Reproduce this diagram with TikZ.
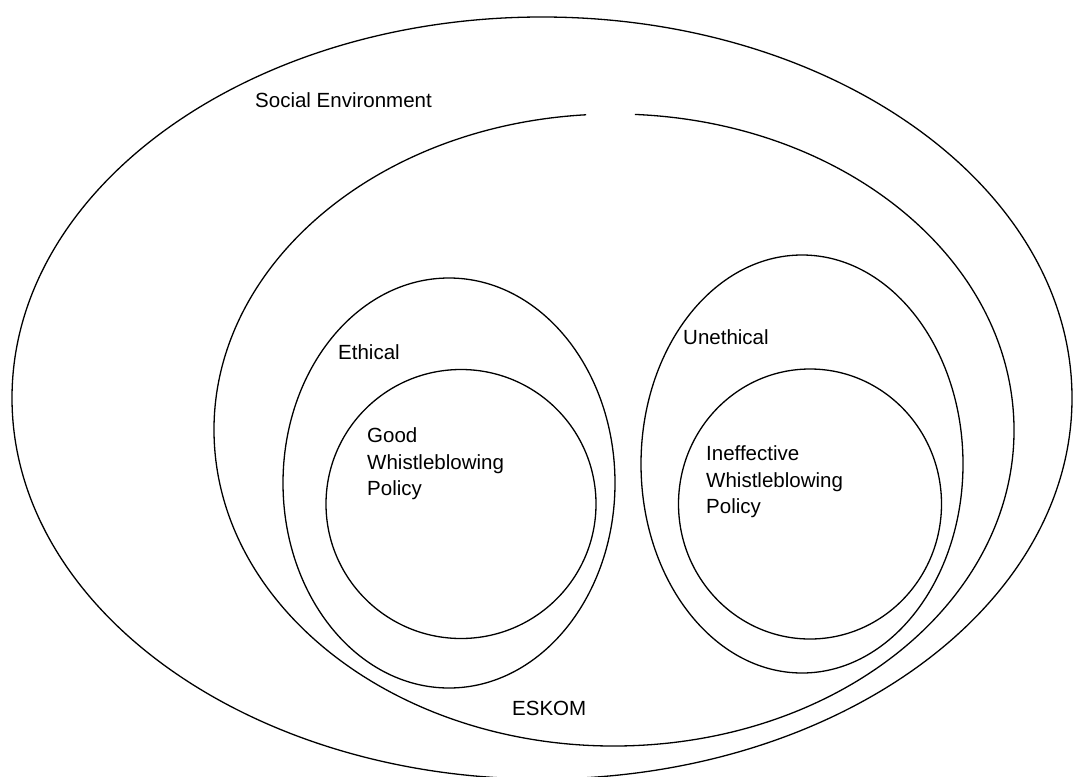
\documentclass[tikz,border=0pt]{standalone}
\usepackage{fontspec}
\setmainfont{Liberation Sans}
\usetikzlibrary{shapes.geometric}
\begin{document}
\begin{tikzpicture}[x=1pt,y=-1pt,
  ring/.style={draw=black,line width=1.3pt,ellipse,inner sep=0pt},
  lbl/.style={inner sep=0pt,font=\fontsize{20.5}{26.5}\selectfont,align=left}]
\useasboundingbox (0,0) rectangle (1075,776);
\fill[white] (0,0) rectangle (1075,776);
\begin{scope}
\clip (0,0) rectangle (1075,776);
% social environment
\node[ring,minimum width=1060pt,minimum height=762pt] (soc) at (542,398) {};
% ESKOM with gap at top
\draw[line width=1.3pt] (614,430) ++(94:400pt and 316pt) arc[start angle=94,end angle=447,x radius=400pt,y radius=316pt];
\node[inner sep=0pt] (esk) at (614,430) {};
% ethical
\node[ring,minimum width=332pt,minimum height=410pt] (eth) at (449,483) {};
\node[ring,minimum width=270pt,minimum height=269pt] (good) at (461,504) {};
% unethical
\node[ring,minimum width=322pt,minimum height=418pt] (uneth) at (802,464) {};
\node[ring,minimum width=263pt,minimum height=270pt] (ineff) at (810,504) {};
\end{scope}
% labels
\node[lbl,anchor=west] (tsoc) at (255,100) {Social Environment};
\node[lbl,anchor=west] (teth) at (338,352) {Ethical};
\node[lbl,anchor=west] (tuneth) at (683,337) {Unethical};
\node[lbl,anchor=west] (tgood) at (367,464) {Good\\Whistleblowing\\Policy};
\node[lbl,anchor=west] (tineff) at (706,482) {Ineffective\\Whistleblowing\\Policy};
\node[lbl,anchor=west] (tesk) at (512,708) {ESKOM};
\end{tikzpicture}
\end{document}
